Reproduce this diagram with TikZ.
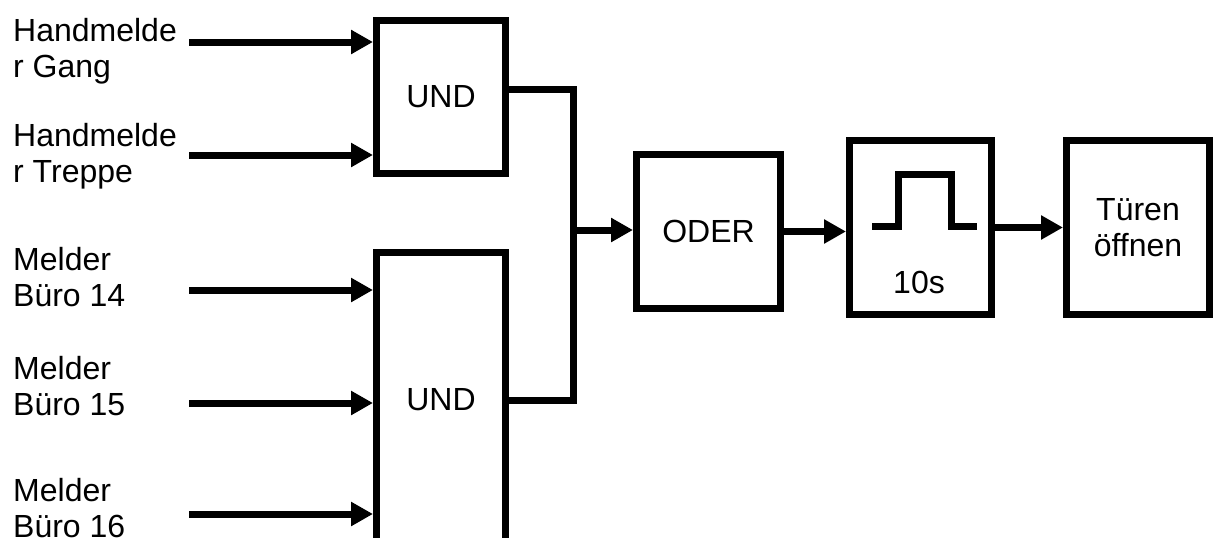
\documentclass[tikz,border=0pt]{standalone}
\usepackage{fontspec}
\setmainfont{Liberation Sans}
\usetikzlibrary{arrows.meta}

\begin{document}
\begin{tikzpicture}[x=1pt, y=-1pt,
  boite/.style = {draw, line width=7pt, inner sep=0pt},
  fleche/.style = {line width=7pt, -{Triangle[length=22pt, width=23pt]}},
  trait/.style = {line width=7pt},
  texte/.style = {align=left, anchor=base west, inner sep=0pt},
  every node/.style = {font=\fontsize{32}{36}\selectfont}]
  \useasboundingbox (0,0) rectangle (1216,538);

  % Les boîtes
  \node[boite, minimum width=129pt, minimum height=153pt] (und1) at (441,97) {UND};
  \node[boite, minimum width=129pt, minimum height=295pt] (und2) at (441,400) {UND};
  \node[boite, minimum width=144pt, minimum height=154pt] (oder) at (708.5,231.5) {ODER};
  \node[boite, minimum width=142pt, minimum height=174pt] (puls) at (920.5,227.5) {};
  \node[boite, minimum width=143pt, minimum height=174pt, align=center] (tuer) at (1138,227.5) {Türen\\öffnen};
  \node (duree) at (919,282) {10s};

  % Le signal
  \draw[trait] (872,226) -- (898,226) -- (898,174) -- (951,174) -- (951,226) -- (977,226);

  % Les entrées (base = dernière ligne)
  \node[texte] (e1) at (13,77) {Handmelde\\r Gang};
  \node[texte] (e2) at (13,182) {Handmelde\\r Treppe};
  \node[texte] (e3) at (13,306) {Melder\\Büro 14};
  \node[texte] (e4) at (13,415) {Melder\\Büro 15};
  \node[texte] (e5) at (13,537) {Melder\\Büro 16};
  \coordinate (d1) at (189,42);
  \coordinate (d2) at (189,155);
  \coordinate (d3) at (189,290);
  \coordinate (d4) at (189,403);
  \coordinate (d5) at (189,514);
  \draw[fleche] (d1) -- (d1 -| und1.west);
  \draw[fleche] (d2) -- (d2 -| und1.west);
  \draw[fleche] (d3) -- (d3 -| und2.west);
  \draw[fleche] (d4) -- (d4 -| und2.west);
  \draw[fleche] (d5) -- (d5 -| und2.west);

  % Les liaisons
  \coordinate (j) at (573,230);
  \draw[trait] ([yshift=8pt]und1.east) -| (j) |- (und2.east);
  \draw[fleche] (j) -- (j -| oder.west);
  \draw[fleche] (oder.east) -- (oder.east -| puls.west);
  \draw[fleche] (puls.east) -- (puls.east -| tuer.west);
\end{tikzpicture}
\end{document}
